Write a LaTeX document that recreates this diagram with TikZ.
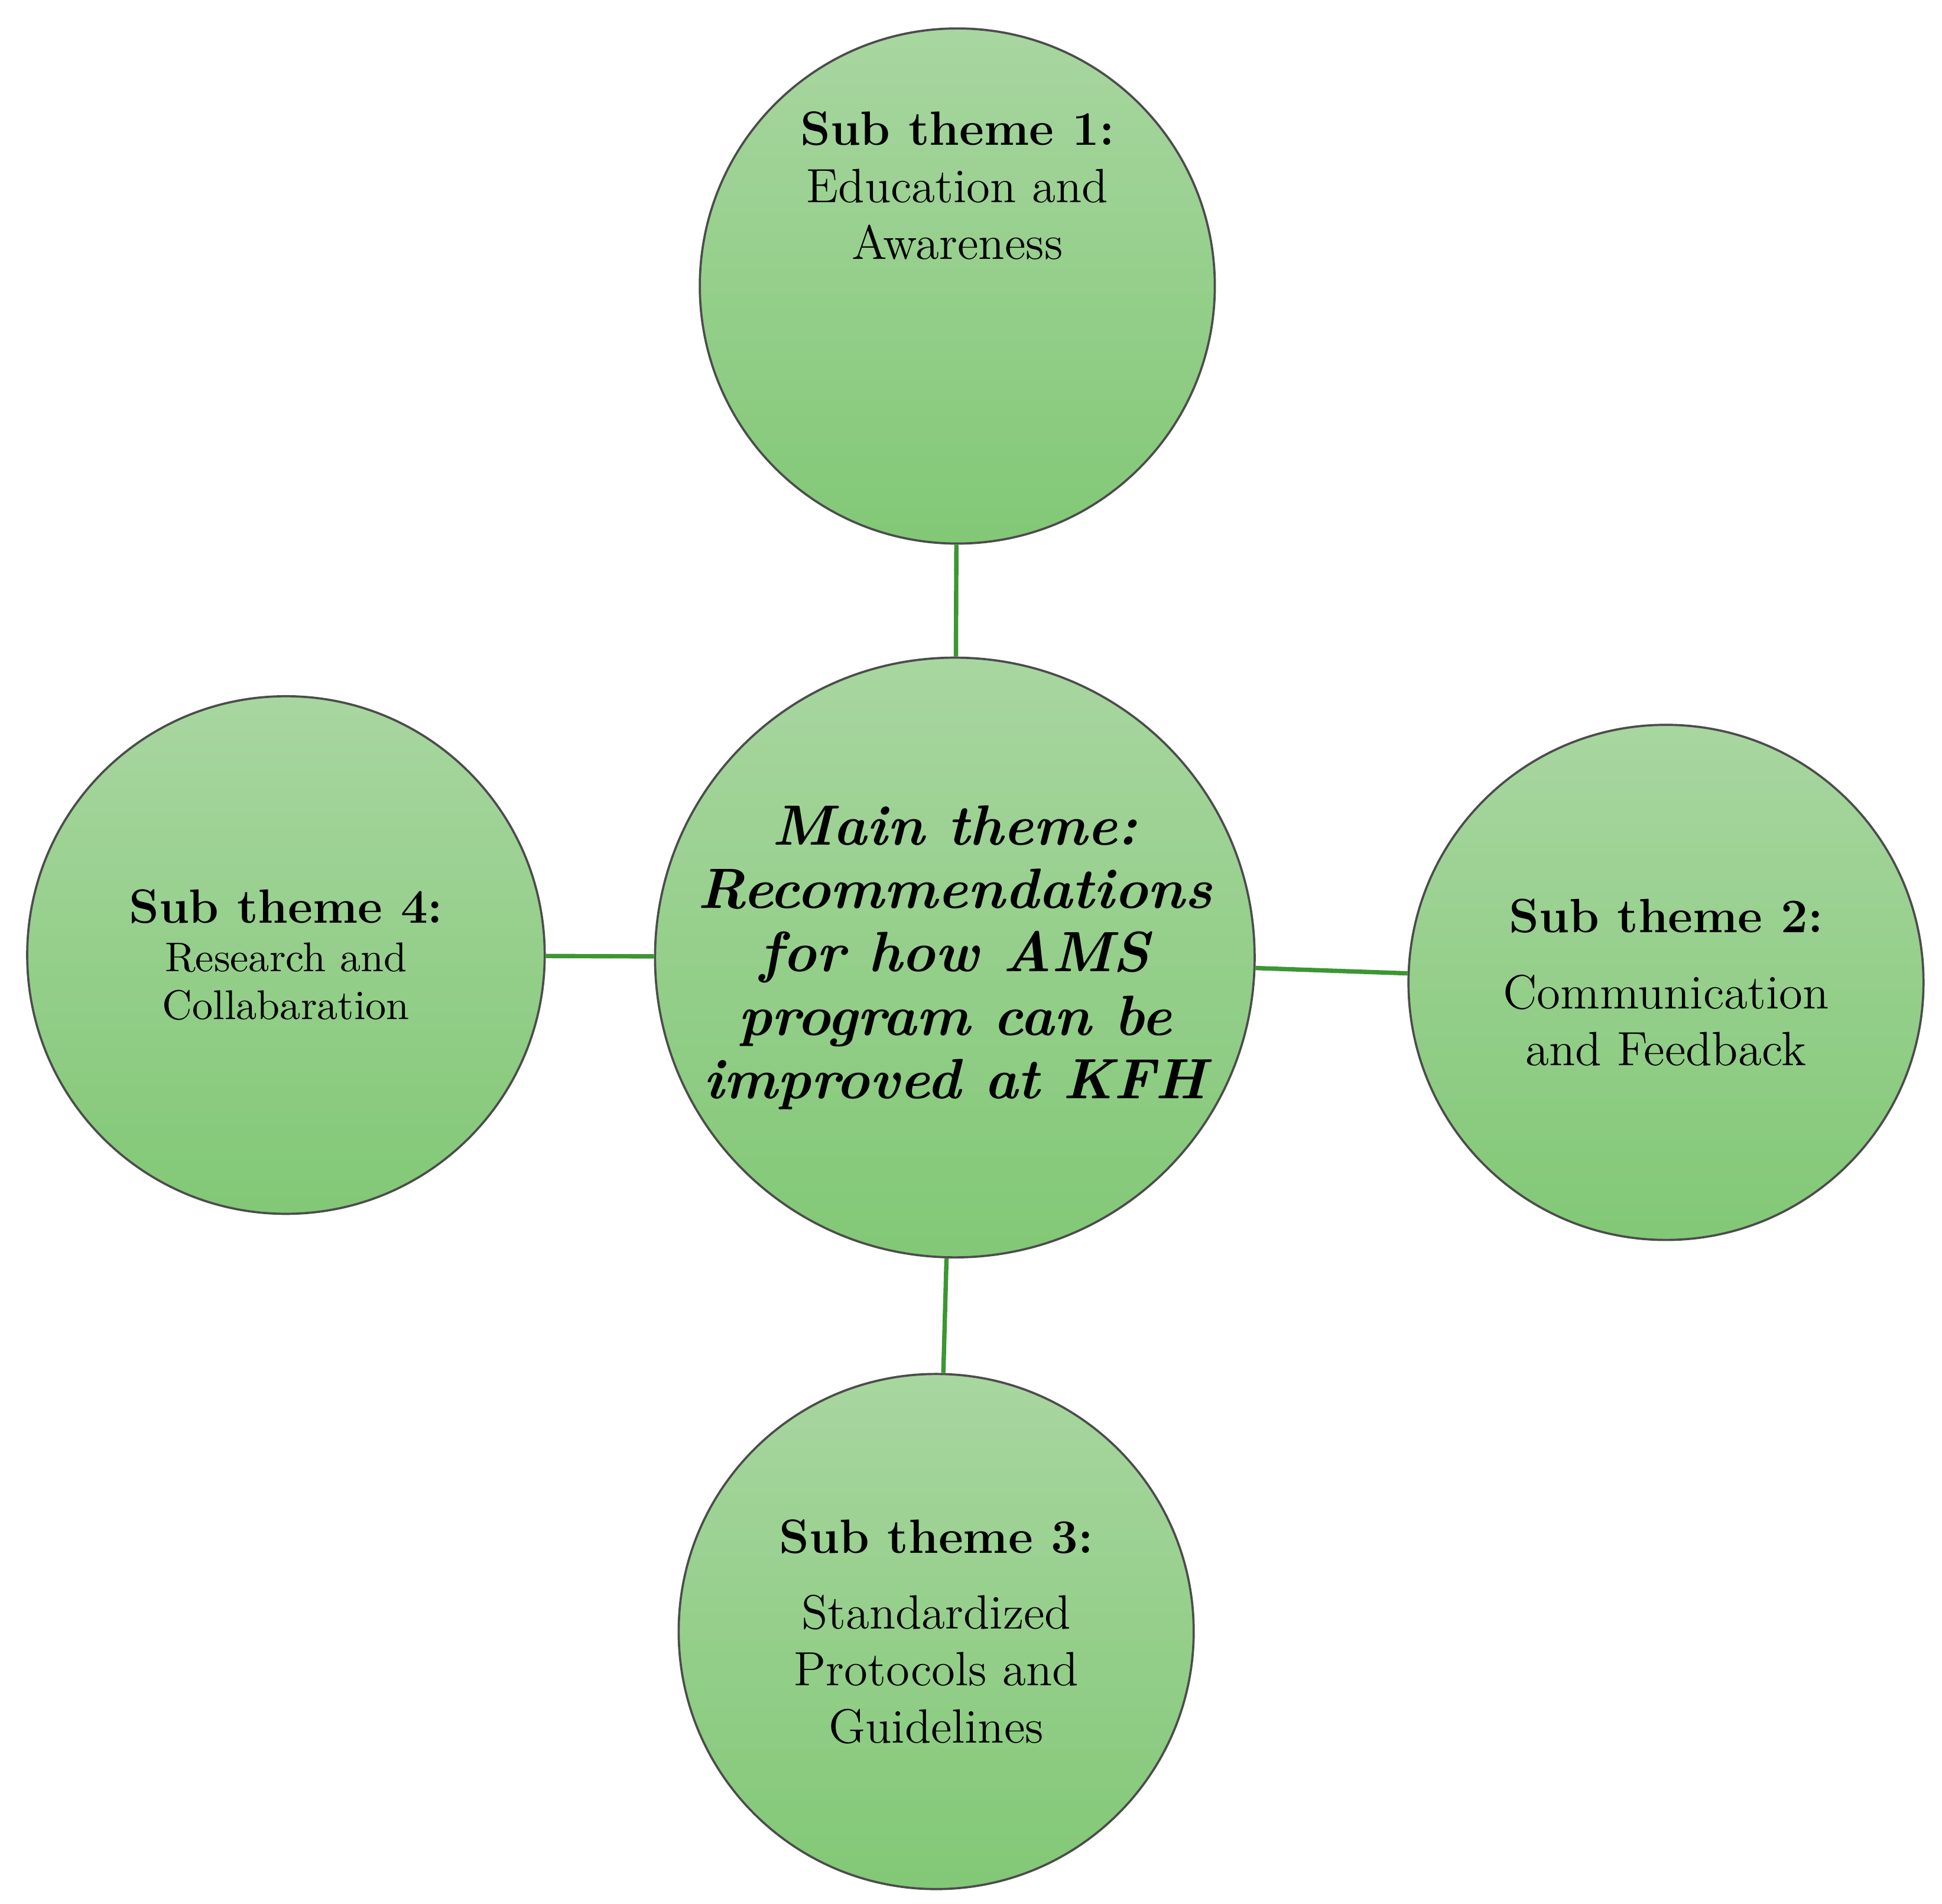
\documentclass[tikz,border=0pt]{standalone}
\usetikzlibrary{positioning}
\definecolor{lightleaf}{RGB}{168,214,160}
\definecolor{darkleaf}{RGB}{130,200,118}
\definecolor{linkgreen}{RGB}{60,150,50}
\begin{document}
\begin{tikzpicture}[x=0.01cm,y=-0.01cm,
    theme/.style={circle,draw=black!70,line width=0.5pt,top color=lightleaf,bottom color=darkleaf,
                  align=center,inner sep=0pt},
    link/.style={draw=linkgreen,line width=1pt}]
    \useasboundingbox (0,0) rectangle (1562,1531);

    \node[theme,minimum size=4.82cm,font=\fontsize{13}{14.5}\selectfont\bfseries\itshape] (main) at (768,770)
        {Main theme:\\Recommendations\\for how AMS\\program can be\\improved at KFH};
    \node[theme,minimum size=4.14cm,font=\fontsize{11}{13}\selectfont] (sub1) at (770,230)
        {\textbf{Sub theme 1:}\\Education and\\Awareness\\[3em]};
    \node[theme,minimum size=4.14cm,font=\fontsize{11}{13}\selectfont] (sub2) at (1340,790)
        {\textbf{Sub theme 2:}\\[0.4em]Communication\\and Feedback};
    \node[theme,minimum size=4.14cm,font=\fontsize{11}{13}\selectfont] (sub3) at (753,1312)
        {\textbf{Sub theme 3:}\\[0.4em]Standardized\\Protocols and\\Guidelines};
    \node[theme,minimum size=4.16cm,font=\fontsize{9.5}{11}\selectfont] (sub4) at (230,768)
        {\textbf{\fontsize{11}{13}\selectfont Sub theme 4:}\\Research and\\Collabaration};

    % spokes from the main theme
    \draw[link] (main) -- (sub1);
    \draw[link] (main) -- (sub2);
    \draw[link] (main) -- (sub3);
    \draw[link] (main) -- (sub4);
\end{tikzpicture}
\end{document}
